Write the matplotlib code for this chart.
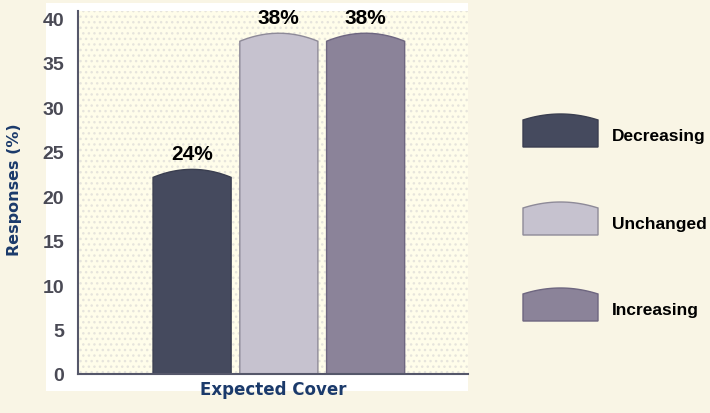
import numpy as np
import matplotlib
matplotlib.use("Agg")
import matplotlib.pyplot as plt
from matplotlib.patches import Polygon, Rectangle

# Data
categories = ['Decreasing', 'Unchanged', 'Increasing']
responses = [24, 38, 38]            # printed labels (%)
bar_tops = [23.0, 38.3, 38.3]       # drawn heights as seen in the picture
colors = ['#454a5e', '#c6c2cf', '#8b8399']
edges = ['#3a3e50', '#8e8a98', '#6e6680']
yticks = [0, 5, 10, 15, 20, 25, 30, 35, 40]

navy = '#1b3a6b'
tick_gray = '#4a4a55'
cream = '#f9f5e5'
lab_font = ['Liberation Sans', 'DejaVu Sans']

plt.rcParams['font.family'] = 'DejaVu Sans'
plt.rcParams['hatch.linewidth'] = 1.0

fig = plt.figure(figsize=(7.1, 4.14), dpi=100)
fig.patch.set_facecolor(cream)

# background layer in pixel coordinates (white panel + legend)
bg = fig.add_axes([0, 0, 1, 1], zorder=-1)
bg.set_xlim(0, 710)
bg.set_ylim(414, 0)
bg.axis('off')
bg.add_patch(Rectangle((46, 4), 422, 388, facecolor='white', edgecolor='none'))


def dome(x0, w, top, bump, n=40):
    """ Points of a slightly domed bar top """
    xs = np.linspace(x0, x0 + w, n)
    t = (xs - (x0 + w / 2)) / (w / 2)
    return xs, top - bump * t ** 2


ax = fig.add_axes([78 / 710, 1 - 375 / 414, 390 / 710, 363 / 414])
ax.set_facecolor('#fffdea')
ax.add_patch(Rectangle((0, 0), 1, 1, transform=ax.transAxes, facecolor='none',
                       edgecolor='#e6e4dc', linewidth=0, hatch='...', zorder=0))

w = 0.9
for i, (top, val) in enumerate(zip(bar_tops, responses)):
    xs, ys = dome(i - w / 2, w, top, 0.9)
    pts = [(i - w / 2, 0)] + list(zip(xs, ys)) + [(i + w / 2, 0)]
    ax.add_patch(Polygon(pts, closed=True, facecolor=colors[i],
                         edgecolor=edges[i], linewidth=1, zorder=2))
    ax.text(i, top + 0.7, '%d%%' % val, ha='center', va='bottom', family=lab_font,
            fontsize=15, fontweight='bold', color='black')

ax.set_xlim(-1.315, 3.18)
ax.set_ylim(0, 40.8)
ax.set_yticks(yticks)
ax.set_xticks([])
for s in ['top', 'right']:
    ax.spines[s].set_visible(False)
for s in ['left', 'bottom']:
    ax.spines[s].set_color('#55576a')
    ax.spines[s].set_linewidth(1.5)
ax.tick_params(axis='y', length=0, pad=10, labelsize=14, labelcolor=tick_gray)
for lab in ax.get_yticklabels():
    lab.set_fontweight('bold')
    lab.set_family(lab_font)
ax.set_ylabel('Responses (%)', fontsize=11.5, fontweight='bold', color=navy)
ax.yaxis.set_label_coords(-0.143, 0.51)
ax.set_xlabel('Expected Cover', fontsize=12, fontweight='bold', color=navy, labelpad=4)

# legend built by hand on the background layer
leg_y = [148, 236, 322]
for i, name in enumerate(categories):
    xs, _ = dome(523, 75, 0, 0)
    pts = [(523, leg_y[i])] + [(x, leg_y[i] - 33 + 6 * ((x - 560.5) / 37.5) ** 2) for x in xs] + [(598, leg_y[i])]
    bg.add_patch(Polygon(pts, closed=True, facecolor=colors[i], edgecolor=edges[i], linewidth=1))
    bg.text(612, leg_y[i] - 11, name, ha='left', va='center', fontsize=12.5, family=lab_font,
            fontweight='bold', color='black')

fig.savefig('out.png', dpi=100, facecolor=cream)
